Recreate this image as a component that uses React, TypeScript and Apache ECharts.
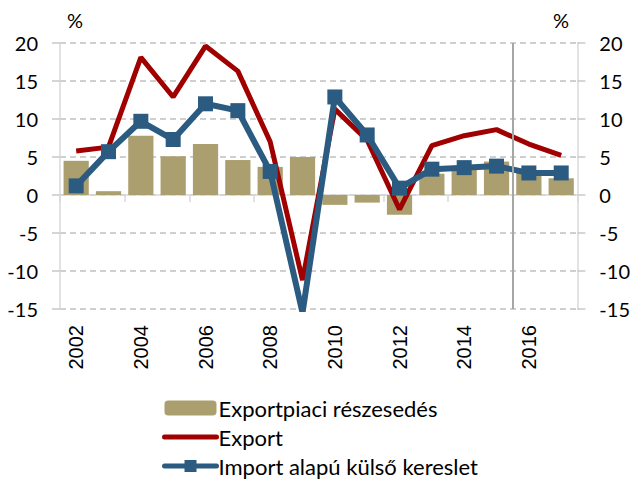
import React, { useEffect, useRef } from "react";
import * as echarts from "echarts";

const years = ["2002","2003","2004","2005","2006","2007","2008","2009","2010","2011","2012","2013","2014","2015","2016","2017"];
const marketShare = [4.5, 0.5, 7.8, 5.1, 6.7, 4.6, 3.7, 5.0, -1.3, -1.0, -2.6, 2.8, 3.3, 4.4, 3.0, 2.2];
const exportGrowth = [5.8, 6.3, 18.1, 12.9, 19.6, 16.3, 7.0, -11.2, 11.3, 7.2, -1.9, 6.5, 7.8, 8.6, 6.7, 5.2];
const importDemand = [1.2, 5.7, 9.7, 7.3, 12.0, 11.1, 3.1, -15.5, 12.9, 7.9, 0.9, 3.4, 3.6, 3.8, 2.9, 2.9];
const forecastBoundary = [14];
const seriesNames = ["Exportpiaci részesedés", "Export", "Import alapú külső kereslet"];

const FONT = "Lato, 'Open Sans', sans-serif";

export default function App() {
  const ref = useRef<HTMLDivElement>(null);
  useEffect(() => {
    if (!ref.current) return;
    const chart = echarts.init(ref.current, undefined, { renderer: "svg" });
    const yCommon = {
      type: "value",
      min: -15,
      max: 20,
      interval: 5,
      axisLine: { show: true, lineStyle: { color: "#d9d9d9", width: 1.5 } },
      axisTick: { show: true, length: 8, lineStyle: { color: "#c8c8c8", width: 1.5 } },
      axisLabel: { color: "#000", fontFamily: FONT, fontSize: 20, margin: 22 },
    };
    chart.setOption({
      animation: false,
      grid: { left: 60, right: 54, top: 43, bottom: 171 },
      graphic: [
        { type: "text", left: 67, top: 10, style: { text: "%", font: `20px ${FONT}`, fill: "#000" } },
        { type: "text", left: 553, top: 10, style: { text: "%", font: `20px ${FONT}`, fill: "#000" } },
      ],
      legend: {
        data: [
          { name: seriesNames[0] },
          { name: seriesNames[1], itemStyle: { opacity: 0 } },
          { name: seriesNames[2] },
        ],
        orient: "vertical",
        left: 162,
        top: 397,
        padding: 0,
        itemWidth: 52,
        itemHeight: 15,
        itemGap: 7,
        lineStyle: { width: 5, cap: "round" },
        textStyle: { fontFamily: FONT, fontSize: 22, color: "#000", padding: [0, 0, 0, -3] },
      },
      xAxis: [
        {
          type: "category",
          data: years,
          position: "bottom",
          axisLine: { show: false, onZero: false },
          axisTick: { show: false },
          axisLabel: { rotate: 90, interval: 1, margin: 16, fontFamily: "'Liberation Sans', Arial, sans-serif", fontSize: 20, color: "#000" },
          splitLine: { show: false },
        },
        {
          type: "category",
          data: years,
          position: "bottom",
          axisLine: { show: true, onZero: true, lineStyle: { color: "#d9d9d9", width: 1.5 } },
          axisTick: { show: true, interval: 1, length: 7, lineStyle: { color: "#d9d9d9", width: 1.5 } },
          axisLabel: { show: false },
          splitLine: { show: false },
        },
        { type: "value", min: 0, max: 16, show: false },
      ],
      yAxis: [
        {
          ...yCommon,
          position: "left",
          splitLine: { show: true, lineStyle: { color: "#c0c0c0", type: [6, 4], width: 1.5 } },
        },
        { ...yCommon, position: "right", splitLine: { show: false } },
      ],
      series: [
        {
          name: seriesNames[0],
          type: "bar",
          data: marketShare,
          barCategoryGap: "22%",
          itemStyle: { color: "#ab9f6f" },
          xAxisIndex: 0,
          yAxisIndex: 0,
        },
        {
          name: seriesNames[1],
          type: "line",
          data: exportGrowth,
          symbol: "none",
          lineStyle: { color: "#a00000", width: 5 },
          itemStyle: { color: "#a00000" },
          xAxisIndex: 0,
          yAxisIndex: 0,
        },
        {
          name: seriesNames[2],
          type: "line",
          data: importDemand,
          symbol: "rect",
          symbolSize: 15,
          lineStyle: { color: "#2b5b80", width: 6 },
          itemStyle: { color: "#2b5b80" },
          clip: true,
          xAxisIndex: 0,
          yAxisIndex: 0,
        },
        {
          name: "boundary",
          type: "line",
          data: [],
          xAxisIndex: 2,
          yAxisIndex: 0,
          markLine: {
            silent: true,
            symbol: "none",
            label: { show: false },
            lineStyle: { color: "#a6a6a6", width: 2, type: "solid" },
            data: forecastBoundary.map((v) => ({ xAxis: v })),
          },
        },
      ],
    });
    return () => chart.dispose();
  }, []);
  return <div ref={ref} style={{ width: 633, height: 480, position: "absolute", left: 0, top: 0 }} />;
}
